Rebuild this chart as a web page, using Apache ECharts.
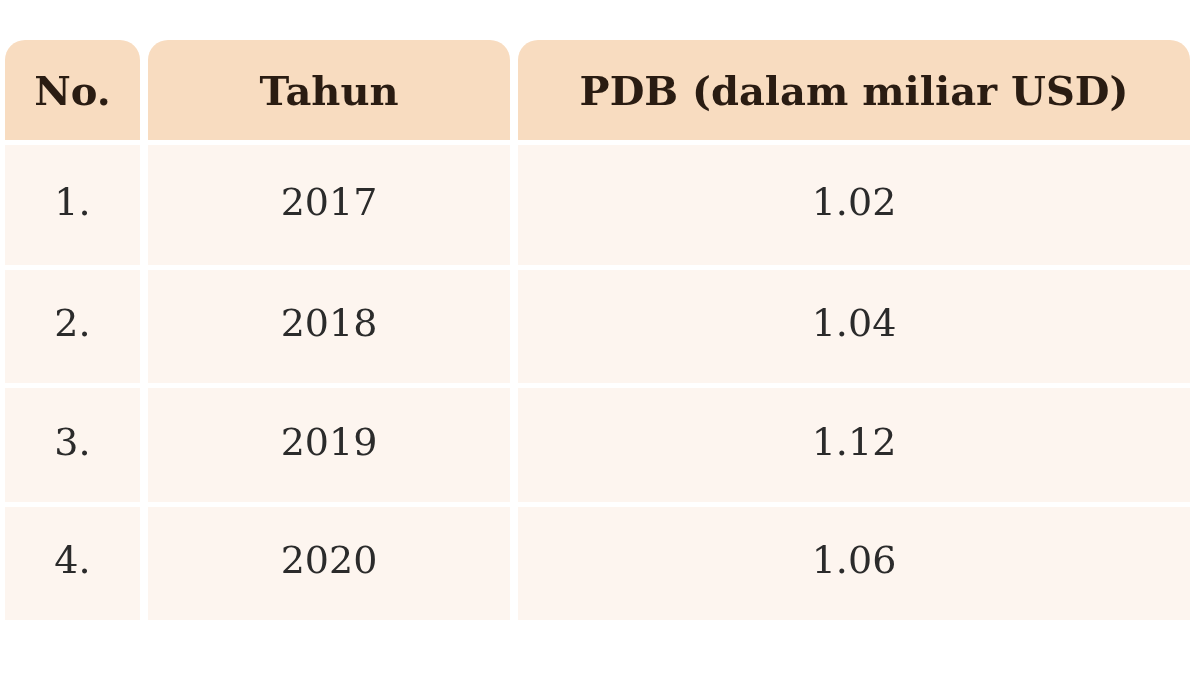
<!DOCTYPE html>
<html><head><meta charset="utf-8">
<script src="https://cdn.jsdelivr.net/npm/echarts@6/dist/echarts.min.js"></script>
<style>html,body{margin:0;padding:0;background:#fff}#c{width:1200px;height:675px}</style>
</head><body><div id="c"></div>
<script>
const headers = ['No.', 'Tahun', 'PDB (dalam miliar USD)'];
const numbers = ['1.', '2.', '3.', '4.'];
const years = ['2017', '2018', '2019', '2020'];
const pdb = [1.02, 1.04, 1.12, 1.06];

// layout (pixels)
const colEdges = [[5,140],[148,510],[518,1190]];
const rowEdges = [[40,140],[145,265],[270,383],[388,502],[507,620]];

const cells = [];
headers.forEach((h,c)=>cells.push([c,0,h]));
for (let r=0;r<years.length;r++){
  cells.push([0,r+1,numbers[r]]);
  cells.push([1,r+1,years[r]]);
  cells.push([2,r+1,pdb[r].toFixed(2)]);
}
const chart = echarts.init(document.getElementById('c'));
chart.setOption({
  animation:false,
  grid:{left:0,right:0,top:0,bottom:0},
  xAxis:{type:'value',min:0,max:1200,show:false},
  yAxis:{type:'value',min:0,max:675,inverse:true,show:false},
  series:[{
    type:'custom',
    data:cells,
    encode:{x:0,y:1},
    renderItem:function(params,api){
      const c=api.value(0), r=api.value(1);
      const text=cells[params.dataIndex][2];
      const ce=colEdges[c], re=rowEdges[r];
      const p0=api.coord([ce[0],re[0]]), p1=api.coord([ce[1],re[1]]);
      const hdr=r===0;
      return {type:'group',children:[
        {type:'rect',shape:{x:p0[0],y:p0[1],width:p1[0]-p0[0],height:p1[1]-p0[1],r:hdr?[20,20,0,0]:0},
         style:{fill:hdr?'#f8dcc0':'#fdf5ef'}},
        {type:'text',style:{x:(p0[0]+p1[0])/2,y:(p0[1]+p1[1])/2+(hdr?5:0),text:text,
          fill:hdr?'#2a1c12':'#2b2b2b',
          font:(hdr?'bold 40px':'38px')+' "DejaVu Serif", "Liberation Serif", serif',
          align:'center',verticalAlign:'middle'}}
      ]};
    }
  }]
});
</script></body></html>
